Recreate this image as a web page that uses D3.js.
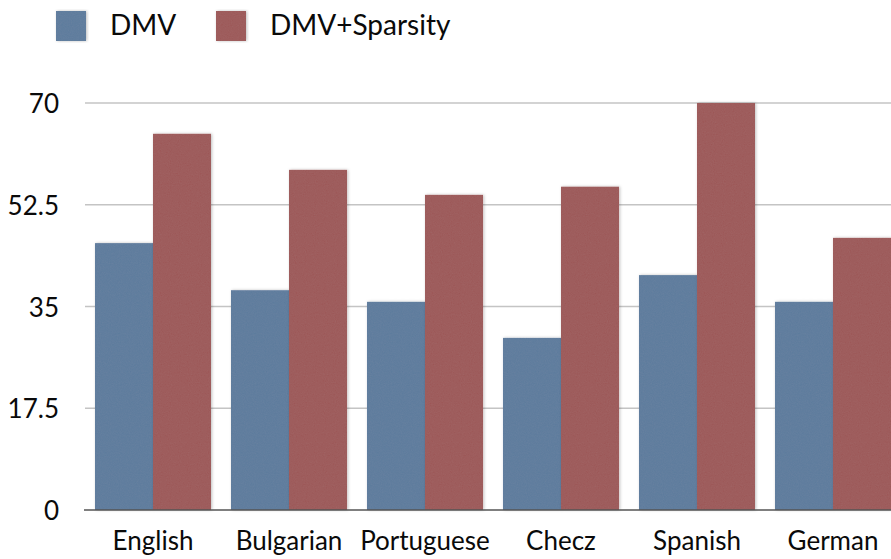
<!DOCTYPE html>
<html>
<head>
<meta charset="utf-8">
<script src="https://cdn.jsdelivr.net/npm/d3@7"></script>
<style>
  html, body { margin: 0; padding: 0; background: #fff; }
  svg { display: block; }
  text { font-family: Lato, "Open Sans", sans-serif; fill: #0a0a0a; }
</style>
</head>
<body>
<svg id="chart" width="891" height="559"></svg>
<script>
// Chart data
const languages = ["English", "Bulgarian", "Portuguese", "Checz", "Spanish", "German"];
const seriesNames = ["DMV", "DMV+Sparsity"];
const dmv = [45.9, 37.8, 35.8, 29.6, 40.4, 35.8];
const dmvSparsity = [64.7, 58.5, 54.2, 55.6, 70.0, 46.8];
const yTicks = [0, 17.5, 35, 52.5, 70];
const seriesColors = ["#5b7a9d", "#9d5656"];

const svg = d3.select("#chart");
const margin = { left: 95, right: 0 };
const W = 891;

const defs = svg.append("defs");
// Fine grain texture and soft shadow for the bar fills
const grain = defs.append("filter").attr("id", "grain")
  .attr("x", "-5%").attr("y", "-5%").attr("width", "115%").attr("height", "110%");
grain.append("feTurbulence").attr("type", "fractalNoise")
  .attr("baseFrequency", 0.9).attr("numOctaves", 2).attr("seed", 3).attr("result", "noise");
grain.append("feColorMatrix").attr("in", "noise").attr("type", "matrix")
  .attr("values", "0 0 0 0 0.5  0 0 0 0 0.5  0 0 0 0 0.5  0 0 0 0.08 0").attr("result", "n2");
grain.append("feComposite").attr("in", "n2").attr("in2", "SourceGraphic").attr("operator", "in").attr("result", "tex");
grain.append("feMerge").call(m => {
  m.append("feMergeNode").attr("in", "SourceGraphic");
  m.append("feMergeNode").attr("in", "tex");
}).attr("result", "textured");
grain.append("feDropShadow").attr("in", "textured").attr("dx", 1).attr("dy", 0)
  .attr("stdDeviation", 1.5).attr("flood-color", "#000").attr("flood-opacity", 0.25);

const x0 = d3.scaleBand()
  .domain(languages)
  .range([margin.left, W - margin.right])
  .paddingInner(0.147)
  .paddingOuter(0);
const x1 = d3.scaleBand()
  .domain(seriesNames)
  .range([0, x0.bandwidth()]);
const y = d3.scaleLinear()
  .domain([0, 70])
  .range([510, 103]);

// Horizontal gridlines
svg.append("g").selectAll("line")
  .data(yTicks.filter(t => t > 0))
  .join("line")
  .attr("x1", 85).attr("x2", W)
  .attr("y1", d => y(d)).attr("y2", d => y(d))
  .attr("stroke", "#c4c4c4").attr("stroke-width", 1.5);

// Grouped bars
const rows = languages.map((lang, i) => ({ lang, values: [dmv[i], dmvSparsity[i]] }));
const groups = svg.append("g").selectAll("g")
  .data(rows)
  .join("g")
  .attr("transform", d => `translate(${x0(d.lang)},0)`);
groups.selectAll("rect")
  .data(d => d.values.map((v, k) => ({ key: seriesNames[k], v, k })))
  .join("rect")
  .attr("x", d => x1(d.key))
  .attr("y", d => y(d.v))
  .attr("width", x1.bandwidth())
  .attr("height", d => y(0) - y(d.v))
  .attr("fill", d => seriesColors[d.k])
  .attr("filter", "url(#grain)");

// Baseline
svg.append("line")
  .attr("x1", 84).attr("x2", W)
  .attr("y1", y(0)).attr("y2", y(0))
  .attr("stroke", "#555").attr("stroke-width", 1.5);

// Y tick labels
svg.append("g").selectAll("text")
  .data(yTicks)
  .join("text")
  .attr("x", 59)
  .attr("y", d => y(d) + 10)
  .attr("text-anchor", "end")
  .attr("font-size", 26)
  .text(d => d);

// Category labels
svg.append("g").selectAll("text")
  .data(languages)
  .join("text")
  .attr("x", d => x0(d) + x0.bandwidth() / 2)
  .attr("y", 550)
  .attr("text-anchor", "middle")
  .attr("font-size", 26)
  .text(d => d);

// Legend
const legendX = [56, 216];
const legend = svg.append("g").selectAll("g")
  .data(seriesNames)
  .join("g")
  .attr("transform", (d, i) => `translate(${legendX[i]},11)`);
legend.append("rect")
  .attr("width", 30).attr("height", 30)
  .attr("fill", (d, i) => seriesColors[i])
  .attr("filter", "url(#grain)");
legend.append("text")
  .attr("x", 54).attr("y", 24)
  .attr("font-size", 28)
  .text(d => d);
</script>
</body>
</html>
